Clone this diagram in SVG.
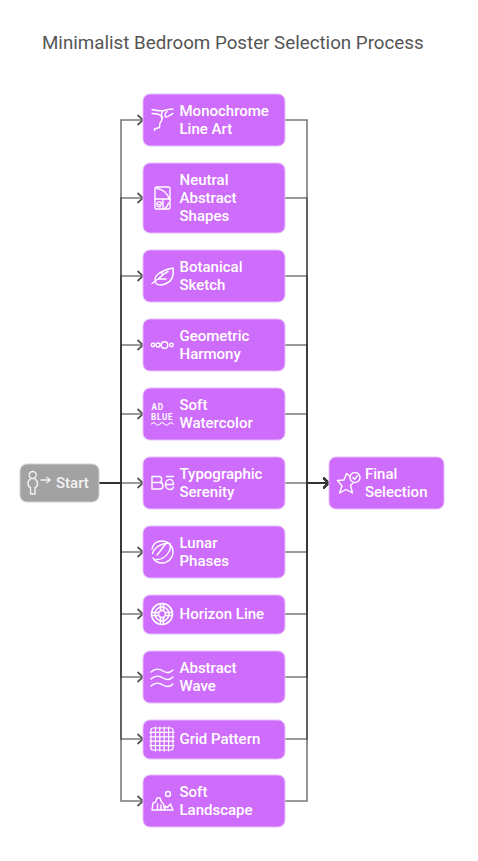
<svg xmlns="http://www.w3.org/2000/svg" width="478" height="861" viewBox="0 0 478 861">
<style>
.t{font-family:Roboto,"Liberation Sans",sans-serif;font-size:18.750px;fill:#555}
.l{font-family:Roboto,"Liberation Sans",sans-serif;font-size:15px;font-weight:500;fill:#fff}
.n{fill:#ce6cfc;stroke:#e6bdfc;stroke-width:1}
.s{fill:#a2a2a2;stroke:#d0d0d0;stroke-width:1}
.i{fill:none;stroke:#fff;stroke-width:1.400;stroke-linecap:round;stroke-linejoin:round}
.c{fill:none;stroke:#333;stroke-opacity:.65;stroke-width:1.600}
.m{font-family:Roboto,"Liberation Sans",sans-serif;font-size:8.200px;font-weight:700;fill:#fff;letter-spacing:.7px}
</style>
<defs>
<marker id="a" markerWidth="10" markerHeight="12" refX="7" refY="6" orient="auto" markerUnits="userSpaceOnUse"><path d="M1.500 1 L7 6 L1.500 11" fill="none" stroke="#555" stroke-width="1.700"/></marker>
<marker id="b" markerWidth="10" markerHeight="12" refX="7" refY="6" orient="auto" markerUnits="userSpaceOnUse"><path d="M1.500 1 L7 6 L1.500 11" fill="none" stroke="#3d3d3d" stroke-width="1.800"/></marker>
</defs>
<rect width="478" height="861" fill="#fff"/>
<text class="t" x="42" y="49">Minimalist Bedroom Poster Selection Process</text>
<g id="connectors">
<path class="c" marker-end="url(#a)" d="M99 483H121V120H143"/>
<path class="c" marker-end="url(#a)" d="M99 483H121V198H143"/>
<path class="c" marker-end="url(#a)" d="M99 483H121V276H143"/>
<path class="c" marker-end="url(#a)" d="M99 483H121V345H143"/>
<path class="c" marker-end="url(#a)" d="M99 483H121V414H143"/>
<path class="c" marker-end="url(#a)" d="M99 483H143"/>
<path class="c" marker-end="url(#a)" d="M99 483H121V552H143"/>
<path class="c" marker-end="url(#a)" d="M99 483H121V614H143"/>
<path class="c" marker-end="url(#a)" d="M99 483H121V677H143"/>
<path class="c" marker-end="url(#a)" d="M99 483H121V739H143"/>
<path class="c" marker-end="url(#a)" d="M99 483H121V801H143"/>
<path class="c" marker-end="url(#b)" d="M285 120H307V483H329"/>
<path class="c" marker-end="url(#b)" d="M285 198H307V483H329"/>
<path class="c" marker-end="url(#b)" d="M285 276H307V483H329"/>
<path class="c" marker-end="url(#b)" d="M285 345H307V483H329"/>
<path class="c" marker-end="url(#b)" d="M285 414H307V483H329"/>
<path class="c" marker-end="url(#b)" d="M285 483H329"/>
<path class="c" marker-end="url(#b)" d="M285 552H307V483H329"/>
<path class="c" marker-end="url(#b)" d="M285 614H307V483H329"/>
<path class="c" marker-end="url(#b)" d="M285 677H307V483H329"/>
<path class="c" marker-end="url(#b)" d="M285 739H307V483H329"/>
<path class="c" marker-end="url(#b)" d="M285 801H307V483H329"/>
</g>
<g id="start"><rect class="s" x="20" y="464" width="79" height="38" rx="7"/>
<g class="i" style="stroke:#f2f2f2"><circle cx="32.700" cy="475" r="3.500"/><path d="M30.500 479C28.500 480 28 482 28 484C28 486 29 487 30.500 487.500V494H35V487.500C36.500 487 37.500 486 37.500 484C37.500 482 37 480 35 479"/><path d="M41 480H50M47 477.500L50.500 480L47 482.500"/></g>
<text class="l" x="56" y="488" style="fill:#f2f2f2">Start</text></g>
<g id="n1"><rect class="n" x="143" y="94" width="142" height="52" rx="7"/>
<g class="i"><path d="M152 109.500C157 110.500 160 111.500 164 110.500C167 109.500 170 109 173 109M152 113.500C156 113.500 159 114 160.500 115.500C162.500 117.500 162.500 120 160 123L159.500 127.500L154.500 129V130.500M167 111.500C164.500 113.500 164.500 116.500 166 117C168 117.500 170 114.500 173 113.500M163 111C161 113 161 115 162.500 118"/></g>
<text class="l" x="179.500" y="116">Monochrome</text><text class="l" x="179.500" y="134">Line Art</text></g>
<g id="n2"><rect class="n" x="143" y="163" width="142" height="70" rx="7"/>
<g class="i"><rect x="155" y="187" width="15" height="22" rx="1.500"/><path d="M157 188.500C163 189 168 194 169 199M155 199H170M163 199V209M160.500 206.500C158 207.500 156.500 205.500 157 203.500C157.500 201.500 161 201 161.500 203.500C161.800 205 160 205.500 159 204.500M165 208C167 207 168 205 168.500 203"/></g>
<text class="l" x="179.500" y="185">Neutral</text><text class="l" x="179.500" y="203">Abstract</text><text class="l" x="179.500" y="221">Shapes</text></g>
<g id="n3"><rect class="n" x="143" y="250" width="142" height="52" rx="7"/>
<g class="i"><path d="M152 283.500L158 279C161 276 165 273 168 271.500M173 268C174 276 172 282 165 284C160 286 155 285 155 280C155 274 162 270.500 173 268ZM158 279L166 279M162 276V272.500"/></g>
<text class="l" x="179.500" y="272">Botanical</text><text class="l" x="179.500" y="290">Sketch</text></g>
<g id="n4"><rect class="n" x="143" y="319" width="142" height="52" rx="7"/>
<g class="i"><circle cx="153" cy="345" r="1.700"/><circle cx="158" cy="345" r="2"/><circle cx="164.500" cy="345" r="3.300"/><circle cx="171.500" cy="345" r="1.700"/></g>
<text class="l" x="179.500" y="341">Geometric</text><text class="l" x="179.500" y="359">Harmony</text></g>
<g id="n5"><rect class="n" x="143" y="388" width="142" height="52" rx="7"/>
<text class="m" x="151.500" y="410">AD</text><text class="m" x="151" y="419.700">BLUE</text>
<g class="i" style="stroke-width:1.100"><path d="M151.500 424q2.150-2.400 4.300 0t4.300 0t4.300 0t4.300 0t4.300 0"/></g>
<text class="l" x="179.500" y="410">Soft</text><text class="l" x="179.500" y="428">Watercolor</text></g>
<g id="n6"><rect class="n" x="143" y="457" width="142" height="52" rx="7"/>
<g class="i"><path d="M152 476.500H159C162.500 476.500 162.500 482.500 159 482.500H152ZM152 482.500H160C164 482.500 164 489 160 489H152Z"/><path d="M166.500 476.500H173.500M166.500 484.500H173.500C173.500 481 171.500 479.500 170 479.500C167.500 479.500 165.500 481.500 165.500 484.500C165.500 487.500 167.500 489.500 170 489.500C171.500 489.500 173 488.500 173.500 487"/></g>
<text class="l" x="179.500" y="479">Typographic</text><text class="l" x="179.500" y="497">Serenity</text></g>
<g id="n7"><rect class="n" x="143" y="526" width="142" height="52" rx="7"/>
<g class="i"><path d="M152 549C153 544 157 541 162 541C168 541 173 546 173 552C173 558 168 563 162 563C158 563 155 561 153 558"/><path d="M152.500 553.500C154 548 162 542 170 543.500C172 552 164 560 156 559.500M157 555L166 543.500"/></g>
<text class="l" x="179.500" y="548">Lunar</text><text class="l" x="179.500" y="566">Phases</text></g>
<g id="n8"><rect class="n" x="143" y="595" width="142" height="39" rx="7"/>
<g class="i" style="stroke-width:1.600"><circle cx="162" cy="614" r="10.500"/><circle cx="162" cy="614" r="7"/><circle cx="162" cy="614" r="3.500"/><path d="M160.500 604V610.500M163.500 604V610.500M160.500 617.500V624M163.500 617.500V624M152 612.500H158.500M152 615.500H158.500M165.500 612.500H172M165.500 615.500H172"/></g>
<text class="l" x="179.500" y="619">Horizon Line</text></g>
<g id="n9"><rect class="n" x="143" y="651" width="142" height="52" rx="7"/>
<g class="i"><path d="M151 672C155 668 160 669 163 671C166 673 170 673 173 670M151 679C155 675 160 676 163 678C166 680 170 680 173 677M151 686C155 682 160 683 163 685C166 687 170 687 173 684"/></g>
<text class="l" x="179.500" y="673">Abstract</text><text class="l" x="179.500" y="691">Wave</text></g>
<g id="n10"><rect class="n" x="143" y="720" width="142" height="39" rx="7"/>
<g class="i" style="stroke-width:1.200"><rect x="151" y="728" width="22" height="22" rx="2"/><path d="M155.400 727V751M159.800 727V751M164.200 727V751M168.600 727V751M150 732.400H174M150 736.800H174M150 741.200H174M150 745.600H174"/></g>
<text class="l" x="179.500" y="744">Grid Pattern</text></g>
<g id="n11"><rect class="n" x="143" y="775" width="142" height="52" rx="7"/>
<g class="i"><circle cx="168" cy="794" r="2.500"/><path d="M152 810L153 803L155.500 802L157 798H160L161.500 802L163.500 804L164.500 810ZM157.500 810V804M161 810V805M164.500 810L165.500 806L167.500 807.500L170.500 804L173 810Z"/></g>
<text class="l" x="179.500" y="797">Soft</text><text class="l" x="179.500" y="815">Landscape</text></g>
<g id="final"><rect class="n" x="329" y="457" width="115" height="52" rx="7"/>
<g class="i"><path d="M350 476.500L346.500 473.500L344 480L337.500 480.500L342 486L339.500 493L346 489.500L352.500 493L350.500 485.500L353 483"/><circle cx="355" cy="477.500" r="5"/><path d="M352.800 477.500L354.500 479.300L357.300 475.800"/></g>
<text class="l" x="365" y="479">Final</text><text class="l" x="365" y="497">Selection</text></g>
</svg>
